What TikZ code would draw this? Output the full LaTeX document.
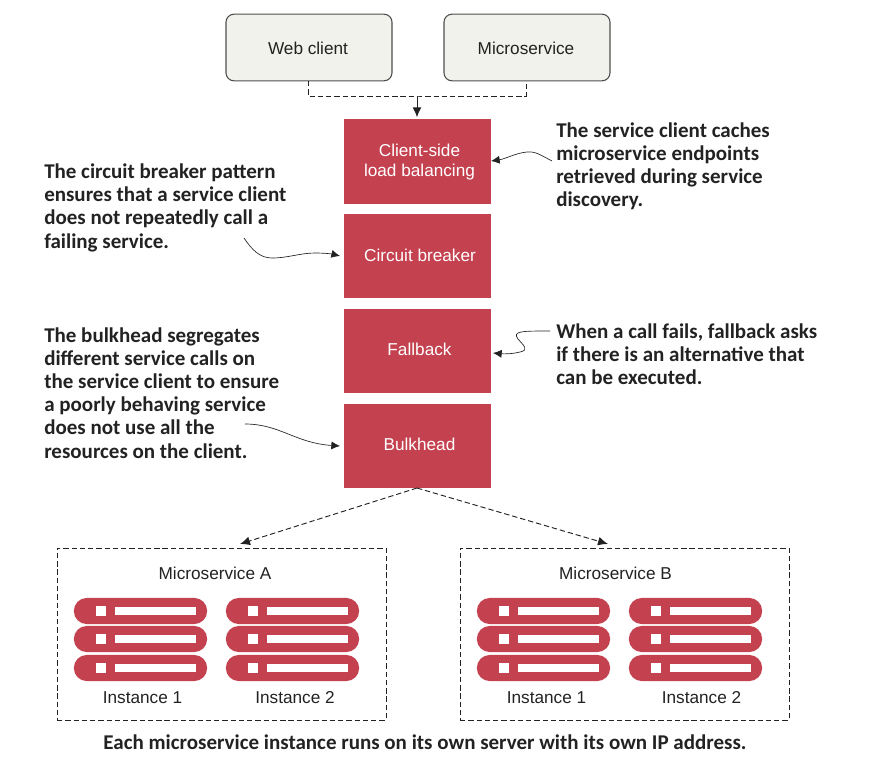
\documentclass[tikz,border=0pt]{standalone}
\usepackage{fontspec}
\setmainfont{Liberation Sans}
\newfontfamily\notefont{Carlito}
\usetikzlibrary{arrows.meta}
\definecolor{redbox}{HTML}{C44150}
\definecolor{clientfill}{HTML}{F2F2EC}
\definecolor{ink}{HTML}{222222}
\tikzset{
  x=0.75pt,y=-0.75pt,
  lab/.style={font=\fontsize{12.9}{15.5}\selectfont,text=ink,inner sep=0pt,align=center},
  client/.style={draw=ink!80,line width=0.8pt,rounded corners=6pt,fill=clientfill,minimum width=124.5pt,minimum height=50pt,inner sep=0pt},
  redblock/.style={fill=redbox,minimum width=110.25pt,minimum height=63.4pt,inner sep=0pt},
  redtext/.style={text=white,align=center,inner sep=0pt,font=\fontsize{12.9}{15}\selectfont},
  note/.style={font=\notefont\bfseries\fontsize{15.75}{17.4}\selectfont,text=ink,inner sep=0pt,align=left,anchor=north west},
  pill/.style={fill=redbox,rounded corners=9.7pt,minimum width=100pt,minimum height=19.6pt,inner sep=0pt},
  led/.style={fill=white,minimum width=7.5pt,minimum height=7.5pt,inner sep=0pt},
  slot/.style={fill=white,minimum width=60.75pt,minimum height=6pt,inner sep=0pt},
  group/.style={draw=ink,line width=0.7pt,dash pattern=on 4pt off 2.2pt,minimum width=246.75pt,minimum height=129pt,inner sep=0pt},
  dashlink/.style={draw=ink,line width=0.7pt,dash pattern=on 4pt off 2.2pt},
  curvelink/.style={draw=ink,line width=0.5pt,-{Latex[length=6.5pt,width=6pt]}},
  tiplink/.style={draw=ink,line width=0.7pt,-{Latex[length=7.5pt,width=6.5pt]}},
}
\newcommand{\serverrow}[3]{% name, centre x, centre y
  \node[pill] (#1) at (#2,#3) {};
  \node[led] (#1led) at (#2-39.5,#3) {};
  \node[slot] (#1slot) at (#2+15,#3) {};
}
\begin{document}
\begin{tikzpicture}
\useasboundingbox (0,0) rectangle (878,768);
\node[client] (web) at (309,47.5) {};
\node[client] (ms) at (527,47.5) {};
\node[lab] (webt) at (308,48) {Web client};
\node[lab] (mst) at (526,48) {Microservice};
\node[redblock] (clb) at (417.5,161.5) {};
\node[redblock] (cb) at (417.5,256) {};
\node[redblock] (fb) at (417.5,351) {};
\node[redblock] (bh) at (417.5,446) {};
\node[redtext] (clbt) at (419.5,162) {Client-side\\load balancing};
\node[redtext] (cbt) at (420,255) {Circuit breaker};
\node[redtext] (fbt) at (419.5,349) {Fallback};
\node[redtext] (bht) at (419.5,444) {Bulkhead};
\coordinate (join) at (417,96);
\coordinate (wj) at (308,81);
\coordinate (mj) at (526,81);
\draw[dashlink] (wj) |- (join) -| (mj);
\draw[tiplink,shorten >=1.2pt] (join) -- (clb.north -| join);
\node[note] (n1) at (44,163.5) {The circuit breaker pattern\\ensures that a service client\\does not repeatedly call a\\failing service.};
\node[note] (n2) at (44,327) {The bulkhead segregates\\different service calls on\\the service client to ensure\\a poorly behaving service\\does not use all the\\resources on the client.};
\node[note] (n3) at (556,122) {The service client caches\\microservice endpoints\\retrieved during service\\discovery.};
\node[note] (n4) at (556,323) {When a call fails, fallback asks\\if there is an alternative that\\can be executed.};
\coordinate (s1) at (244,238);
\coordinate (t1) at (340,256);
\draw[curvelink] (s1) .. controls (252,250) and (260,258) .. (272,258) .. controls (288,258) and (300,253) .. (315,253) .. controls (325,253) and (332,254) .. (t1);
\coordinate (s2) at (245,424);
\coordinate (t2) at (340,446);
\draw[curvelink] (s2) .. controls (280,424) and (295,443) .. (t2);
\coordinate (s3) at (552,161);
\coordinate (t3) at (491,161);
\draw[curvelink] (s3) .. controls (542,156) and (536,151) .. (527,152) .. controls (516,153) and (505,159) .. (t3);
\coordinate (s4) at (550,331);
\coordinate (t4) at (493,353);
\draw[curvelink] (s4) .. controls (522,331) and (512,331) .. (518,339) .. controls (523,345) and (530,350) .. (520,352) .. controls (512,354) and (504,354) .. (t4);
\node[group] (ga) at (221.5,634) {};
\node[group] (gb) at (624.5,634) {};
\coordinate (ta1) at (240,544);
\coordinate (tb1) at (608,544);
\coordinate (src) at (417,488);
\draw[tiplink,dash pattern=on 4pt off 2.2pt] (src) -- (ta1);
\draw[tiplink,dash pattern=on 4pt off 2.2pt] (src) -- (tb1);
\node[lab] (ta) at (215,573) {Microservice A};
\node[lab] (tb) at (615.5,573) {Microservice B};
\serverrow{aa}{140.5}{611}\serverrow{ab}{140.5}{639}\serverrow{ac}{140.5}{668}
\serverrow{ba}{292.5}{611}\serverrow{bb}{292.5}{639}\serverrow{bc}{292.5}{668}
\serverrow{ca}{543.5}{611}\serverrow{cb}{543.5}{639}\serverrow{cc}{543.5}{668}
\serverrow{da}{695.5}{611}\serverrow{db}{695.5}{639}\serverrow{dc}{695.5}{668}
\node[lab] (i1) at (142.5,698) {Instance 1};
\node[lab] (i2) at (295,698) {Instance 2};
\node[lab] (i3) at (546.5,698) {Instance 1};
\node[lab] (i4) at (701.5,698) {Instance 2};
\node[note,anchor=center,align=center] (cap) at (425,742) {Each microservice instance runs on its own server with its own IP address.};
\end{tikzpicture}
\end{document}
